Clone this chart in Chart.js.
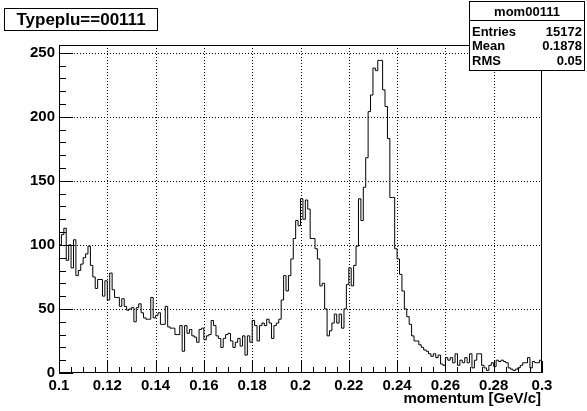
<!DOCTYPE html>
<html>
<head>
<meta charset="utf-8">
<script src="https://cdn.jsdelivr.net/npm/chart.js@4.4.1/dist/chart.umd.min.js"></script>
<style>
  body { margin: 0; background: #fff; }
  canvas { display: block; }
</style>
</head>
<body>
<canvas id="c" width="587" height="411"></canvas>
<script>
// histogram binning
const xMin = 0.1, xMax = 0.3, binWidth = 0.001;
const yMax = 256;

// bin contents, 200 bins from 0.1 to 0.3
const counts = [
  100, 108, 113, 88, 100, 82, 104, 76, 80, 85, 90, 93, 99, 84, 75, 66, 73, 73, 60, 72,
  57, 78, 65, 59, 59, 52, 58, 52, 49, 50, 51, 40, 51, 54, 47, 43, 42, 42, 59, 43,
  45, 47, 38, 38, 52, 36, 35, 35, 30, 30, 37, 17, 37, 31, 34, 29, 28, 24, 34, 35,
  26, 29, 30, 41, 37, 29, 27, 20, 27, 30, 31, 25, 20, 24, 27, 21, 29, 14, 29, 24,
  41, 37, 25, 37, 39, 37, 42, 39, 27, 37, 39, 42, 57, 76, 64, 76, 89, 105, 119, 115,
  136, 120, 135, 128, 105, 105, 97, 89, 68, 70, 50, 29, 33, 39, 46, 39, 46, 35, 50, 69,
  82, 68, 84, 99, 136, 119, 145, 168, 204, 217, 238, 236, 244, 244, 221, 208, 183, 137, 137, 97,
  89, 77, 64, 50, 44, 38, 29, 25, 25, 22, 20, 18, 17, 15, 13, 15, 12, 14, 7, 6,
  12, 10, 12, 8, 15, 6, 10, 8, 12, 8, 15, 4, 10, 15, 15, 6, 4, 2, 6, 8,
  5, 10, 9, 10, 9, 8, 4, 3, 2, 3, 4, 6, 8, 8, 12, 4, 9, 8, 8, 10
];

// axis ticks
const xTicks = [0.1, 0.12, 0.14, 0.16, 0.18, 0.2, 0.22, 0.24, 0.26, 0.28, 0.3];
const yTicks = [0, 50, 100, 150, 200, 250];
const xMinorStep = 0.005, yMinorStep = 10;

// texts
const histTitle = 'Typeplu==00111';
const xTitle = 'momentum [GeV/c]';
const statsName = 'mom00111';
const statsRows = [['Entries', '15172'], ['Mean', '0.1878'], ['RMS', '0.05']];

const FONT = 'Liberation Sans, Arial, Helvetica, sans-serif';

// step points: each bin value held from its low edge to the next edge
const points = counts.map((v, i) => ({ x: xMin + i * binWidth, y: v }));
points.push({ x: xMax, y: counts[counts.length - 1] });

const rootStyle = {
  id: 'rootStyle',
  beforeDatasetsDraw(chart) {
    const { ctx, chartArea: a, scales: { x, y } } = chart;
    ctx.save();
    ctx.strokeStyle = '#000';
    ctx.lineWidth = 1;
    ctx.setLineDash([1, 2]);
    ctx.beginPath();
    xTicks.slice(1, -1).forEach(v => {
      const px = Math.round(x.getPixelForValue(v)) + 0.5;
      ctx.moveTo(px, a.top);
      ctx.lineTo(px, a.bottom);
    });
    yTicks.slice(1).forEach(v => {
      const py = Math.round(y.getPixelForValue(v)) + 0.5;
      ctx.moveTo(a.left, py);
      ctx.lineTo(a.right, py);
    });
    ctx.stroke();
    ctx.restore();
  },
  afterDatasetsDraw(chart) {
    const { ctx, chartArea: a, scales: { x, y } } = chart;
    ctx.save();
    ctx.strokeStyle = '#000';
    ctx.lineWidth = 1;
    ctx.strokeRect(a.left + 0.5, a.top + 0.5, a.right - a.left - 1, a.bottom - a.top - 1);

    ctx.beginPath();
    // x ticks, pointing up
    const nx = Math.round((xMax - xMin) / xMinorStep);
    for (let i = 0; i <= nx; i++) {
      const px = Math.round(x.getPixelForValue(xMin + i * xMinorStep)) + 0.5;
      const len = i % 4 === 0 ? 12 : 6;
      ctx.moveTo(px, a.bottom);
      ctx.lineTo(px, a.bottom - len);
    }
    // y ticks, pointing right
    for (let v = 0; v <= yMax; v += yMinorStep) {
      const py = Math.round(y.getPixelForValue(v)) + 0.5;
      const len = v % 50 === 0 ? 14 : 7;
      ctx.moveTo(a.left, py);
      ctx.lineTo(a.left + len, py);
    }
    ctx.stroke();
    ctx.restore();
  },
  afterDraw(chart) {
    const { ctx, chartArea: a } = chart;
    ctx.save();
    ctx.fillStyle = '#000';
    ctx.strokeStyle = '#000';
    ctx.lineWidth = 1;

    // axis title
    ctx.font = 'bold 15px ' + FONT;
    ctx.textAlign = 'right';
    ctx.textBaseline = 'alphabetic';
    ctx.fillText(xTitle, a.right - 1, 403);

    // title box
    ctx.fillStyle = '#fff';
    ctx.fillRect(4.5, 8.5, 153, 22);
    ctx.strokeRect(4.5, 8.5, 153, 22);
    ctx.fillStyle = '#000';
    ctx.font = 'bold 17px ' + FONT;
    ctx.textAlign = 'center';
    ctx.fillText(histTitle, 81, 25);

    // stats box
    ctx.fillStyle = '#fff';
    ctx.fillRect(469.5, 1.5, 115, 69);
    ctx.strokeRect(469.5, 1.5, 115, 69);
    ctx.beginPath();
    ctx.moveTo(469.5, 20.5);
    ctx.lineTo(584.5, 20.5);
    ctx.stroke();
    ctx.fillStyle = '#000';
    ctx.font = 'bold 13px ' + FONT;
    ctx.textAlign = 'center';
    ctx.fillText(statsName, 527, 16);
    statsRows.forEach((r, i) => {
      const by = 35.5 + i * 14.5;
      ctx.textAlign = 'left';
      ctx.fillText(r[0], 472, by);
      ctx.textAlign = 'right';
      ctx.fillText(r[1], 582, by);
    });
    ctx.restore();
  }
};

const tickFont = { family: FONT, size: 15, weight: 'bold' };

new Chart(document.getElementById('c'), {
  type: 'line',
  data: {
    datasets: [{
      data: points,
      stepped: 'before',
      borderColor: '#000',
      borderWidth: 1,
      pointRadius: 0,
      fill: false
    }]
  },
  options: {
    responsive: false,
    animation: false,
    parsing: false,
    layout: { padding: { top: 45, right: 45, left: 0, bottom: 0 } },
    plugins: { legend: { display: false }, tooltip: { enabled: false } },
    scales: {
      x: {
        type: 'linear',
        min: xMin,
        max: xMax,
        grid: { display: false, drawTicks: false },
        border: { display: false },
        afterBuildTicks: s => { s.ticks = xTicks.map(v => ({ value: v })); },
        afterFit: s => { s.height = 38; },
        ticks: {
          autoSkip: false, maxRotation: 0, padding: 4, color: '#000', font: tickFont,
          callback: v => String(+v.toFixed(3))
        }
      },
      y: {
        min: 0,
        max: yMax,
        grid: { display: false, drawTicks: false },
        border: { display: false },
        afterBuildTicks: s => { s.ticks = yTicks.map(v => ({ value: v })); },
        afterFit: s => { s.width = 59; },
        ticks: { padding: 4, color: '#000', font: tickFont }
      }
    }
  },
  plugins: [rootStyle]
});
</script>
</body>
</html>
